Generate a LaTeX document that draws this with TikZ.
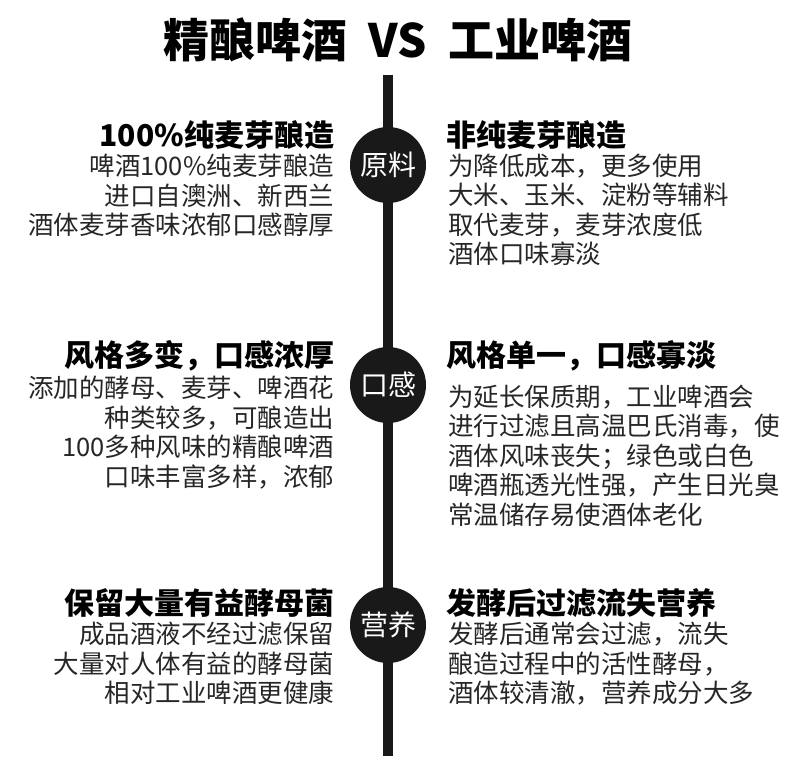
\documentclass[tikz,border=0pt]{standalone}
\usepackage{fontspec}
\setmainfont{Noto Sans CJK SC}
\usetikzlibrary{positioning,calc}

\begin{document}
\begin{tikzpicture}[x=1pt, y=-1pt,
            every node/.style={inner sep=0pt, outer sep=0pt},
            title/.style={font=\fontsize{46}{52}\selectfont\bfseries},
            head/.style={font=\fontsize{30}{34}\selectfont\bfseries},
            bodyl/.style={font=\fontsize{25.5}{29.5}\selectfont, align=right, anchor=north east, text=black!85},
            bodyr/.style={font=\fontsize{25.5}{29.5}\selectfont, align=left, anchor=north west, text=black!85},
            badge/.style={circle, fill=black!90, minimum size=76pt, text=white,
                          font=\fontsize{28}{30}\selectfont}]
        \useasboundingbox (0,0) rectangle (800,756);
        \node[title] (t) at (398,40) {精酿啤酒\ \ VS\ \ 工业啤酒};
        \draw[line width=10pt, black!90] (388,75) coordinate (top) -- (388,756) coordinate (bot);
        % 原料
        \node[badge] (b1) at (388,165) {原料};
        \node[head, anchor=east] (l1) at (334,135) {100\%纯麦芽酿造};
        \node[bodyl] (l1t) at (334,154) {啤酒100\%纯麦芽酿造\\进口自澳洲、新西兰\\酒体麦芽香味浓郁口感醇厚};
        \node[head, anchor=west] (r1) at (446,135) {非纯麦芽酿造};
        \node[bodyr] (r1t) at (448,154) {为降低成本，更多使用\\大米、玉米、淀粉等辅料\\取代麦芽，麦芽浓度低\\酒体口味寡淡};
        % 口感
        \node[badge] (b2) at (388,385) {口感};
        \node[head, anchor=east] (l2) at (334,356) {风格多变，口感浓厚};
        \node[bodyl] (l2t) at (334,376) {添加的酵母、麦芽、啤酒花\\种类较多，可酿造出\\100多种风味的精酿啤酒\\口味丰富多样，浓郁};
        \node[head, anchor=west] (r2) at (446,356) {风格单一，口感寡淡};
        \node[bodyr] (r2t) at (448,385) {为延长保质期，工业啤酒会\\进行过滤且高温巴氏消毒，使\\酒体风味丧失；绿色或白色\\啤酒瓶透光性强，产生日光臭\\常温储存易使酒体老化};
        % 营养
        \node[badge] (b3) at (388,625) {营养};
        \node[head, anchor=east] (l3) at (334,603) {保留大量有益酵母菌};
        \node[bodyl] (l3t) at (334,622) {成品酒液不经过滤保留\\大量对人体有益的酵母菌\\相对工业啤酒更健康};
        \node[head, anchor=west] (r3) at (446,603) {发酵后过滤流失营养};
        \node[bodyr] (r3t) at (448,622) {发酵后通常会过滤，流失\\酿造过程中的活性酵母，\\酒体较清澈，营养成分大多};
\end{tikzpicture}
\end{document}
